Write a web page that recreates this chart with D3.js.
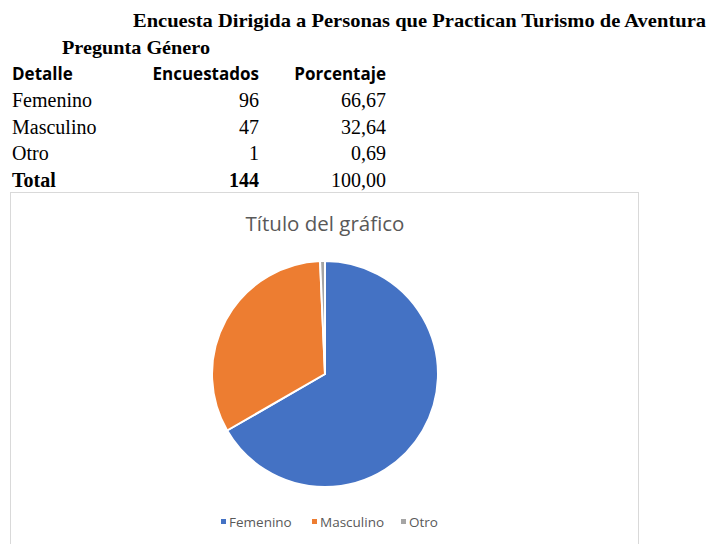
<!DOCTYPE html>
<html>
<head>
<meta charset="utf-8">
<script src="https://cdn.jsdelivr.net/npm/d3@7"></script>
<style>
  body { margin: 0; background: #fff; }
</style>
</head>
<body>
<script>
// table + chart data
const categories = ['Femenino', 'Masculino', 'Otro'];
const counts = [96, 47, 1];
const percents = ['66,67', '32,64', '0,69'];
const totalCount = 144;
const totalPercent = '100,00';
const colors = ['#4472C4', '#ED7D31', '#A5A5A5'];

const width = 708, height = 544;
const svg = d3.select('body').append('svg')
    .attr('width', width)
    .attr('height', height);

const serif = '"Liberation Serif", "Times New Roman", serif';
const sans = '"Open Sans", "Noto Sans", sans-serif';

// headings
svg.append('text')
    .attr('x', 133).attr('y', 27)
    .attr('font-family', serif).attr('font-weight', 'bold')
    .attr('font-size', 19.5)
    .attr('textLength', 573)
    .attr('lengthAdjust', 'spacingAndGlyphs')
    .text('Encuesta Dirigida a Personas que Practican Turismo de Aventura');

svg.append('text')
    .attr('x', 62).attr('y', 54)
    .attr('font-family', serif).attr('font-weight', 'bold')
    .attr('font-size', 19.5)
    .attr('textLength', 148)
    .attr('lengthAdjust', 'spacingAndGlyphs')
    .text('Pregunta Género');

// table header
const header = svg.append('g')
    .attr('font-family', sans).attr('font-weight', 'bold')
    .attr('font-size', 17);
header.append('text').attr('x', 12).attr('y', 80).text('Detalle');
header.append('text').attr('x', 259).attr('y', 80)
    .attr('text-anchor', 'end').text('Encuestados');
header.append('text').attr('x', 386).attr('y', 80)
    .attr('text-anchor', 'end').text('Porcentaje');

// table rows
const rows = categories.map((c, i) => ({ name: c, n: counts[i], p: percents[i] }));
rows.push({ name: 'Total', n: totalCount, p: totalPercent, bold: true });

const rowY = d3.scalePoint()
    .domain(rows.map(d => d.name))
    .range([107, 187]);

const rowG = svg.append('g')
    .attr('font-family', serif).attr('font-size', 20)
  .selectAll('g')
  .data(rows)
  .join('g')
    .attr('transform', d => `translate(0, ${rowY(d.name)})`);

rowG.append('text')
    .attr('x', 12)
    .attr('font-weight', d => d.bold ? 'bold' : 'normal')
    .text(d => d.name);
rowG.append('text')
    .attr('x', 259).attr('text-anchor', 'end')
    .attr('font-weight', d => d.bold ? 'bold' : 'normal')
    .text(d => d.n);
rowG.append('text')
    .attr('x', 386).attr('text-anchor', 'end')
    .text(d => d.p);

// chart frame (bottom runs off the page)
svg.append('rect')
    .attr('x', 10.5).attr('y', 192.5)
    .attr('width', 628).attr('height', 380)
    .attr('fill', '#fff')
    .attr('stroke', '#d9d9d9');

svg.append('text')
    .attr('x', 325).attr('y', 231)
    .attr('text-anchor', 'middle')
    .attr('font-family', sans).attr('font-size', 20.5)
    .attr('fill', '#595959')
    .text('Título del gráfico');

// pie
const pie = d3.pie().sort(null).value(d => d.n);
const arc = d3.arc().innerRadius(0).outerRadius(113);

svg.append('g')
    .attr('transform', 'translate(325, 374)')
  .selectAll('path')
  .data(pie(rows.slice(0, 3)))
  .join('path')
    .attr('d', arc)
    .attr('fill', (d, i) => colors[i])
    .attr('stroke', '#fff')
    .attr('stroke-width', 2);

// legend
const legendX = [221, 312, 401];
const legend = svg.append('g')
    .attr('font-family', sans).attr('font-size', 13.5)
    .attr('fill', '#595959')
  .selectAll('g')
  .data(categories)
  .join('g')
    .attr('transform', (d, i) => `translate(${legendX[i]}, 527)`);

legend.append('rect')
    .attr('x', 0).attr('y', -8)
    .attr('width', 5).attr('height', 5)
    .attr('fill', (d, i) => colors[i]);
legend.append('text')
    .attr('x', 8).attr('y', 0)
    .text(d => d);
</script>
</body>
</html>
